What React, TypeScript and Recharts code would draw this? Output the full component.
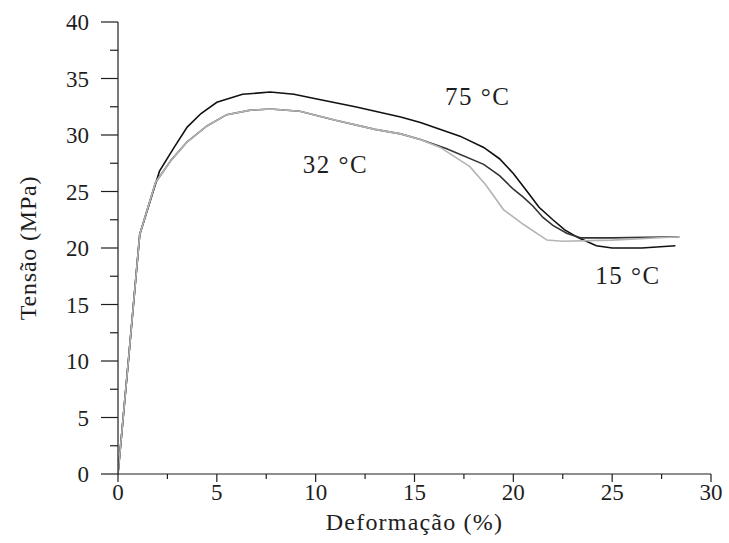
import { Line, LineChart, ReferenceDot, XAxis, YAxis } from "recharts";

const serif = '"Liberation Serif", "DejaVu Serif", serif';

// Tensão (MPa) vs Deformação (%)
const curve75 = [
  { x: 0, y: 0 }, { x: 0.55, y: 10.5 }, { x: 1.1, y: 21.2 }, { x: 2.1, y: 26.8 },
  { x: 2.8, y: 28.8 }, { x: 3.5, y: 30.7 }, { x: 4.2, y: 31.9 }, { x: 5.0, y: 32.9 },
  { x: 6.3, y: 33.6 }, { x: 7.7, y: 33.8 }, { x: 8.9, y: 33.6 }, { x: 10, y: 33.2 },
  { x: 12, y: 32.5 }, { x: 14.3, y: 31.6 }, { x: 15.3, y: 31.1 }, { x: 17.3, y: 29.9 },
  { x: 18.5, y: 28.9 }, { x: 19.3, y: 27.9 }, { x: 20.0, y: 26.6 }, { x: 20.7, y: 25.0 },
  { x: 21.3, y: 23.6 }, { x: 22.0, y: 22.5 }, { x: 22.6, y: 21.6 }, { x: 23.3, y: 20.9 },
  { x: 24.2, y: 20.2 }, { x: 25.0, y: 20.0 }, { x: 26.5, y: 20.0 }, { x: 28.2, y: 20.2 },
];

const curve32 = [
  { x: 0, y: 0 }, { x: 0.55, y: 10.5 }, { x: 1.1, y: 21.2 }, { x: 1.9, y: 25.8 },
  { x: 2.7, y: 27.8 }, { x: 3.5, y: 29.4 }, { x: 4.5, y: 30.8 }, { x: 5.5, y: 31.8 },
  { x: 6.7, y: 32.2 }, { x: 7.7, y: 32.3 }, { x: 9.2, y: 32.1 }, { x: 11, y: 31.3 },
  { x: 13, y: 30.5 }, { x: 14.3, y: 30.1 }, { x: 15.3, y: 29.6 }, { x: 16.6, y: 28.8 },
  { x: 18.5, y: 27.4 }, { x: 19.3, y: 26.4 }, { x: 20.0, y: 25.2 }, { x: 20.5, y: 24.5 },
  { x: 21.0, y: 23.7 }, { x: 21.5, y: 22.7 }, { x: 22.0, y: 22.0 }, { x: 22.7, y: 21.3 },
  { x: 23.4, y: 20.9 }, { x: 25, y: 20.9 }, { x: 28.4, y: 21.0 },
];

const curve15 = [
  { x: 0, y: 0 }, { x: 0.55, y: 10.5 }, { x: 1.1, y: 21.2 }, { x: 1.9, y: 25.8 },
  { x: 2.7, y: 27.8 }, { x: 3.5, y: 29.4 }, { x: 4.5, y: 30.8 }, { x: 5.5, y: 31.8 },
  { x: 6.7, y: 32.2 }, { x: 7.7, y: 32.3 }, { x: 9.2, y: 32.1 }, { x: 11, y: 31.3 },
  { x: 13, y: 30.5 }, { x: 14.3, y: 30.1 }, { x: 15.3, y: 29.6 }, { x: 16.3, y: 28.9 },
  { x: 17.8, y: 27.2 }, { x: 18.6, y: 25.6 }, { x: 19.5, y: 23.4 }, { x: 20.5, y: 22.1 },
  { x: 21.7, y: 20.7 }, { x: 22.5, y: 20.6 }, { x: 25, y: 20.7 }, { x: 28.4, y: 21.0 },
];

const xTicks = [0, 2.5, 5, 7.5, 10, 12.5, 15, 17.5, 20, 22.5, 25, 27.5, 30];
const yTicks = [0, 2.5, 5, 7.5, 10, 12.5, 15, 17.5, 20, 22.5, 25, 27.5, 30, 32.5, 35, 37.5, 40];

const labels = [
  { x: 18.2, y: 33.4, text: "75 °C" },
  { x: 11.0, y: 27.4, text: "32 °C" },
  { x: 25.8, y: 17.6, text: "15 °C" },
];

const ink = "#1e1e1e";

function XTick(props: any) {
  const { x, y, payload } = props;
  const major = payload.value % 5 === 0;
  return (
    <g>
      <line x1={x} x2={x} y1={y} y2={y + (major ? 8 : 5)} stroke={ink} strokeWidth={1.2} />
      {major && (
        <text x={x} y={y + 26} textAnchor="middle" fontFamily={serif} fontSize={23} fill={ink}>
          {payload.value}
        </text>
      )}
    </g>
  );
}

function YTick(props: any) {
  const { x, y, payload } = props;
  const major = payload.value % 5 === 0;
  return (
    <g>
      <line x1={x - (major ? 17 : 8)} x2={x} y1={y} y2={y} stroke={ink} strokeWidth={1.2} />
      {major && (
        <text x={x - 29} y={y + 8} textAnchor="end" fontFamily={serif} fontSize={23} fill={ink}>
          {payload.value}
        </text>
      )}
    </g>
  );
}

export default function App() {
  return (
    <div style={{ position: "absolute", left: 0, top: 0, width: 729, height: 543, background: "#fff" }}>
      <LineChart width={729} height={543} margin={{ top: 22, right: 18, bottom: 0, left: 0 }}>
        <XAxis
          type="number"
          dataKey="x"
          domain={[0, 30]}
          ticks={xTicks}
          interval={0}
          height={69}
          tickSize={0}
          tickMargin={0}
          tickLine={false}
          tick={<XTick />}
          axisLine={{ stroke: ink, strokeWidth: 1.2 }}
          allowDataOverflow
          label={{ value: "Deformação (%)", position: "insideBottom", offset: 13, fontFamily: serif, fontSize: 24, letterSpacing: 1.2, fill: ink }}
        />
        <YAxis
          type="number"
          dataKey="y"
          domain={[0, 40]}
          ticks={yTicks}
          interval={0}
          width={118}
          tickSize={0}
          tickMargin={0}
          tickLine={false}
          tick={<YTick />}
          axisLine={{ stroke: ink, strokeWidth: 1.2 }}
          label={{ value: "Tensão (MPa)", angle: -90, position: "center", dx: -32, fontFamily: serif, fontSize: 24, letterSpacing: 0.8, fill: ink }}
        />
        <Line data={curve75} dataKey="y" type="linear" stroke="#111" strokeWidth={1.6} dot={false} isAnimationActive={false} />
        <Line data={curve32} dataKey="y" type="linear" stroke="#333" strokeWidth={1.6} dot={false} isAnimationActive={false} />
        <Line data={curve15} dataKey="y" type="linear" stroke="#b4b4b4" strokeWidth={1.6} dot={false} isAnimationActive={false} />
        {labels.map((l) => (
          <ReferenceDot
            key={l.text}
            x={l.x}
            y={l.y}
            r={1}
            fill="none"
            stroke="none"
            label={{ value: l.text, position: "center", fontFamily: serif, fontSize: 25, letterSpacing: 1.5, fill: ink }}
          />
        ))}
      </LineChart>
    </div>
  );
}
